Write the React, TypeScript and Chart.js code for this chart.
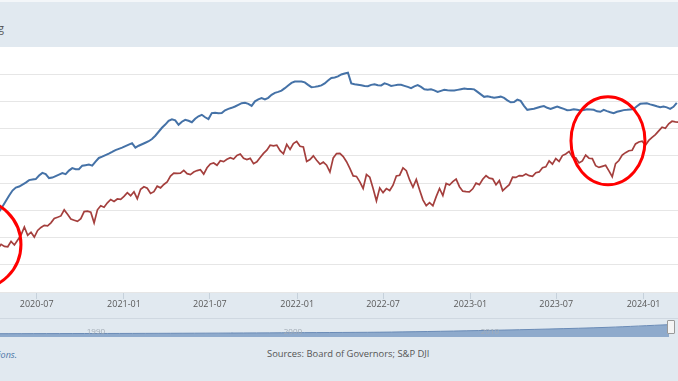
import React, { useEffect, useRef } from 'react';
import { Chart, registerables } from 'chart.js';

Chart.register(...registerables);

const DAY = 86400000;

// Blue series: money stock, billions of dollars, weekly (Mondays) from 2020-04-13
const m2Start = '2020-04-13';
const m2Values = [
  17665, 17812, 17973, 18134, 18281, 18369, 18398, 18457, 18515, 18589,
  18603, 18618, 18721, 18800, 18764, 18647, 18662, 18706, 18750, 18794,
  18764, 18867, 18940, 18911, 18911, 19013, 19028, 19043, 19013, 19131,
  19239, 19277, 19321, 19365, 19415, 19468, 19506, 19541, 19585, 19629,
  19673, 19541, 19599, 19643, 19687, 19731, 19795, 19892, 20009, 20127,
  20220, 20332, 20376, 20346, 20215, 20303, 20361, 20332, 20288, 20390,
  20464, 20508, 20435, 20382, 20557, 20566, 20552, 20557, 20639, 20683,
  20713, 20751, 20801, 20850, 20859, 20830, 20771, 20903, 20962, 20997,
  20959, 21006, 21094, 21152, 21182, 21217, 21290, 21369, 21445, 21484,
  21484, 21484, 21460, 21387, 21319, 21328, 21346, 21372, 21431, 21518,
  21592, 21606, 21636, 21694, 21723, 21747, 21430, 21407, 21392, 21378,
  21357, 21348, 21387, 21407, 21378, 21372, 21431, 21401, 21357, 21372,
  21387, 21387, 21357, 21328, 21293, 21343, 21381, 21328, 21255, 21246,
  21255, 21225, 21181, 21211, 21240, 21231, 21225, 21220, 21240, 21261,
  21278, 21269, 21263, 21255, 21181, 21108, 21035, 21055, 21029, 21006,
  21023, 21041, 21006, 20932, 20874, 20882, 20953, 20918, 20771, 20654,
  20668, 20683, 20713, 20742, 20766, 20713, 20677, 20713, 20748, 20713,
  20683, 20642, 20648, 20669, 20654, 20637, 20648, 20672, 20666, 20654,
  20610, 20595, 20654, 20616, 20581, 20557, 20595, 20619, 20645, 20654,
  20666, 20674, 20757, 20830, 20838, 20847, 20815, 20786, 20757, 20733,
  20748, 20727, 20683, 20742, 20860,
];

// Red series: stock index, weekly (Fridays) from 2020-04-10
const spxStart = '2020-04-10';
const spxValues = [
  // 2020
  2790, 2875, 2837, 2831, 2930, 2864, 2955, 3044, 3194, 3041, 3098, 3009,
  3130, 3185, 3225, 3216, 3271, 3351, 3373, 3397, 3508, 3427, 3341, 3319, 3298,
  3348, 3477, 3484, 3465, 3270, 3510, 3585, 3558, 3638, 3699, 3663, 3709, 3703,
  // 2021
  3756, 3825, 3768, 3841, 3714, 3887, 3934, 3907, 3811, 3842, 3943, 3913, 3975,
  4020, 4129, 4185, 4180, 4181, 4233, 4174, 4156, 4204, 4230, 4247, 4166, 4281,
  4352, 4370, 4327, 4412, 4395, 4437, 4468, 4442, 4509, 4535, 4458, 4433, 4455,
  4357, 4391, 4471, 4545, 4605, 4697, 4683, 4698, 4595, 4538, 4712, 4620, 4726, 4766,
  // 2022
  4677, 4663, 4398, 4432, 4501, 4419, 4349, 4385, 4329, 4204, 4463, 4543,
  4546, 4488, 4393, 4272, 4132, 4123, 4024, 3901, 4158, 4109, 3901, 3675, 3912,
  3825, 3899, 3863, 3962, 4130, 4145, 4280, 4228, 4058, 3924, 4067, 3873, 3693, 3586,
  3640, 3583, 3752, 3901, 3771, 3993, 3965, 4026, 4072, 3934, 3852, 3845, 3840,
  // 2023
  3895, 3999, 3973, 4071, 4136, 4090, 4079, 3970, 4046, 3862, 3917, 3971, 4109,
  4105, 4138, 4133, 4169, 4136, 4124, 4192, 4205, 4282, 4299, 4410, 4348, 4450,
  4399, 4505, 4536, 4582, 4478, 4464, 4370, 4406, 4516, 4457, 4450, 4320, 4288,
  4308, 4327, 4224, 4117, 4358, 4415, 4514, 4559, 4595, 4604, 4719, 4755, 4770,
  // 2024
  4697, 4784, 4840, 4891, 4959, 5027, 5006, 5089, 5137, 5124, 5117,
];

const tickDates = ['2020-07-01', '2021-01-01', '2021-07-01', '2022-01-01', '2022-07-01', '2023-01-01', '2023-07-01', '2024-01-01'];
const axisMin = Date.UTC(2020, 3, 14, 16);
const axisMax = Date.UTC(2024, 2, 13, 14);

// highlighted episodes (red rings), anchored to the index axis
const highlightDates = ['2020-02-24', '2023-10-18'];
const highlightValues = [2874, 4778];

// range navigator (overview strip)
const navYears = [1985, 1990, 1995, 2000, 2005, 2010, 2013, 2016, 2019.1];
const navValues = [17.4, 18.4, 20, 22.6, 26, 35, 42, 51, 65];
const navTicks = [1990, 2000, 2010];

const toMs = (s: string) => {
  const [y, m, d] = s.split('-').map(Number);
  return Date.UTC(y, m - 1, d);
};

const FONT = '"Open Sans", "DejaVu Sans", sans-serif';

export default function App() {
  const mainRef = useRef<HTMLCanvasElement>(null);
  const navRef = useRef<HTMLCanvasElement>(null);

  useEffect(() => {
    const bgPlugin = {
      id: 'plotBg',
      beforeDraw(chart: any) {
        const { ctx, chartArea: a } = chart;
        ctx.save();
        ctx.fillStyle = '#ffffff';
        ctx.fillRect(a.left, a.top, a.right - a.left, a.bottom - a.top);
        ctx.restore();
      },
    };
    const ringRx = [45, 37];
    const ringRy = [45, 44];
    const ringPlugin = {
      id: 'rings',
      afterDatasetsDraw(chart: any) {
        const { ctx } = chart;
        const x = chart.scales.x;
        const y = chart.scales.yR;
        ctx.save();
        ctx.strokeStyle = '#ff0000';
        ctx.lineWidth = 3;
        highlightDates.forEach((d, i) => {
          const cx = x.getPixelForValue(toMs(d));
          const cy = y.getPixelForValue(highlightValues[i]);
          ctx.beginPath();
          ctx.ellipse(cx, cy, ringRx[i], ringRy[i], 0, 0, Math.PI * 2);
          ctx.stroke();
        });
        ctx.restore();
      },
    };
    const navLabelPlugin = {
      id: 'navLabels',
      afterDatasetsDraw(chart: any) {
        const { ctx } = chart;
        const x = chart.scales.x;
        ctx.save();
        ctx.fillStyle = '#a3acb6';
        ctx.font = `8px ${FONT}`;
        ctx.textAlign = 'center';
        ctx.textBaseline = 'middle';
        navTicks.forEach((t) => {
          ctx.fillText(String(t), x.getPixelForValue(t), 13.5);
        });
        ctx.restore();
      },
    };

    const m2T0 = toMs(m2Start);
    const spT0 = toMs(spxStart);

    const main = new Chart(mainRef.current!, {
      type: 'line',
      data: {
        datasets: [
          {
            label: 'M2',
            data: m2Values.map((v, i) => ({ x: m2T0 + i * 7 * DAY, y: v })),
            yAxisID: 'yL',
            borderColor: '#4572a7',
            borderWidth: 2,
            pointRadius: 0,
            tension: 0,
          },
          {
            label: 'S&P 500',
            data: spxValues.map((v, i) => ({ x: spT0 + i * 7 * DAY, y: v })),
            yAxisID: 'yR',
            borderColor: '#a43f3d',
            borderWidth: 1.7,
            pointRadius: 0,
            tension: 0,
          },
        ],
      },
      options: {
        responsive: false,
        animation: false,
        layout: { padding: 0 },
        plugins: { legend: { display: false }, tooltip: { enabled: false } },
        scales: {
          x: {
            type: 'linear',
            position: 'bottom',
            min: axisMin,
            max: axisMax,
            afterBuildTicks: (s: any) => {
              s.ticks = tickDates.map((d) => ({ value: toMs(d) }));
            },
            afterFit: (s: any) => {
              s.height = 26;
            },
            ticks: {
              autoSkip: false,
              maxRotation: 0,
              padding: 0,
              color: '#595959',
              font: { family: FONT, size: 9 },
              callback: (v: any) => {
                const d = new Date(Number(v));
                return `${d.getUTCFullYear()}-${String(d.getUTCMonth() + 1).padStart(2, '0')}`;
              },
            },
            grid: { drawOnChartArea: false, tickLength: 7, color: '#c6d1db' },
            border: { display: false },
          },
          yL: { type: 'linear', position: 'left', display: false, min: 15300, max: 22500 },
          yR: {
            type: 'linear',
            position: 'right',
            min: 2000,
            max: 6500,
            ticks: { display: false, stepSize: 500 },
            grid: {
              drawTicks: false,
              color: (c: any) => (c.tick && c.tick.value === 6500 ? 'rgba(0,0,0,0)' : '#e6e6e6'),
            },
            border: { display: false },
            afterFit: (s: any) => {
              s.width = 0;
            },
          },
        },
      },
      plugins: [bgPlugin, ringPlugin],
    } as any);

    const nav = new Chart(navRef.current!, {
      type: 'line',
      data: {
        datasets: [
          {
            data: navYears.map((y, i) => ({ x: y, y: navValues[i] })),
            fill: 'origin',
            backgroundColor: 'rgba(110,145,190,0.72)',
            borderColor: '#6a8bb6',
            borderWidth: 1,
            pointRadius: 0,
            tension: 0.3,
          },
        ],
      },
      options: {
        responsive: false,
        animation: false,
        layout: { padding: 0 },
        plugins: { legend: { display: false }, tooltip: { enabled: false } },
        scales: {
          x: { type: 'linear', display: false, min: 1985.13, max: 2019.55 },
          y: { display: false, min: 0, max: 100 },
        },
      },
      plugins: [navLabelPlugin],
    } as any);

    return () => {
      main.destroy();
      nav.destroy();
    };
  }, []);

  return (
    <div
      style={{
        position: 'absolute',
        left: 0,
        top: 0,
        width: 678,
        height: 381,
        overflow: 'hidden',
        background: '#e1e9f0',
        fontFamily: FONT,
      }}
    >
      <div style={{ position: 'absolute', left: 0, top: 0, width: 678, height: 2, background: '#f3f6f9' }} />
      <span
        style={{ position: 'absolute', right: 674, top: 21, fontSize: 11, color: '#555', whiteSpace: 'nowrap', lineHeight: '14px' }}
      >
        Billions of Dollars, Weekly, Ending
      </span>
      <canvas
        ref={mainRef}
        width={678}
        height={271}
        style={{ position: 'absolute', left: 0, top: 47, width: 678, height: 271 }}
      />
      <div style={{ position: 'absolute', left: 0, top: 318, width: 678, height: 1, background: '#cfd8e1' }} />
      <canvas
        ref={navRef}
        width={678}
        height={19}
        style={{ position: 'absolute', left: 0, top: 318, width: 678, height: 19 }}
      />
      <div
        style={{
          position: 'absolute',
          left: 667,
          top: 320,
          width: 6,
          height: 12,
          background: '#f4f4f4',
          border: '1px solid #999',
          borderRadius: 1,
        }}
      />
      <span
        style={{ position: 'absolute', left: 267, top: 347, fontSize: 9.4, color: '#555', whiteSpace: 'nowrap', lineHeight: '14px' }}
      >
        Sources: Board of Governors; S&amp;P DJI
      </span>
      <span
        style={{
          position: 'absolute',
          right: 661,
          top: 348,
          fontSize: 9,
          fontStyle: 'italic',
          color: '#4b77a8',
          whiteSpace: 'nowrap',
          lineHeight: '14px',
        }}
      >
        Shaded areas indicate U.S. recessions.
      </span>
    </div>
  );
}
